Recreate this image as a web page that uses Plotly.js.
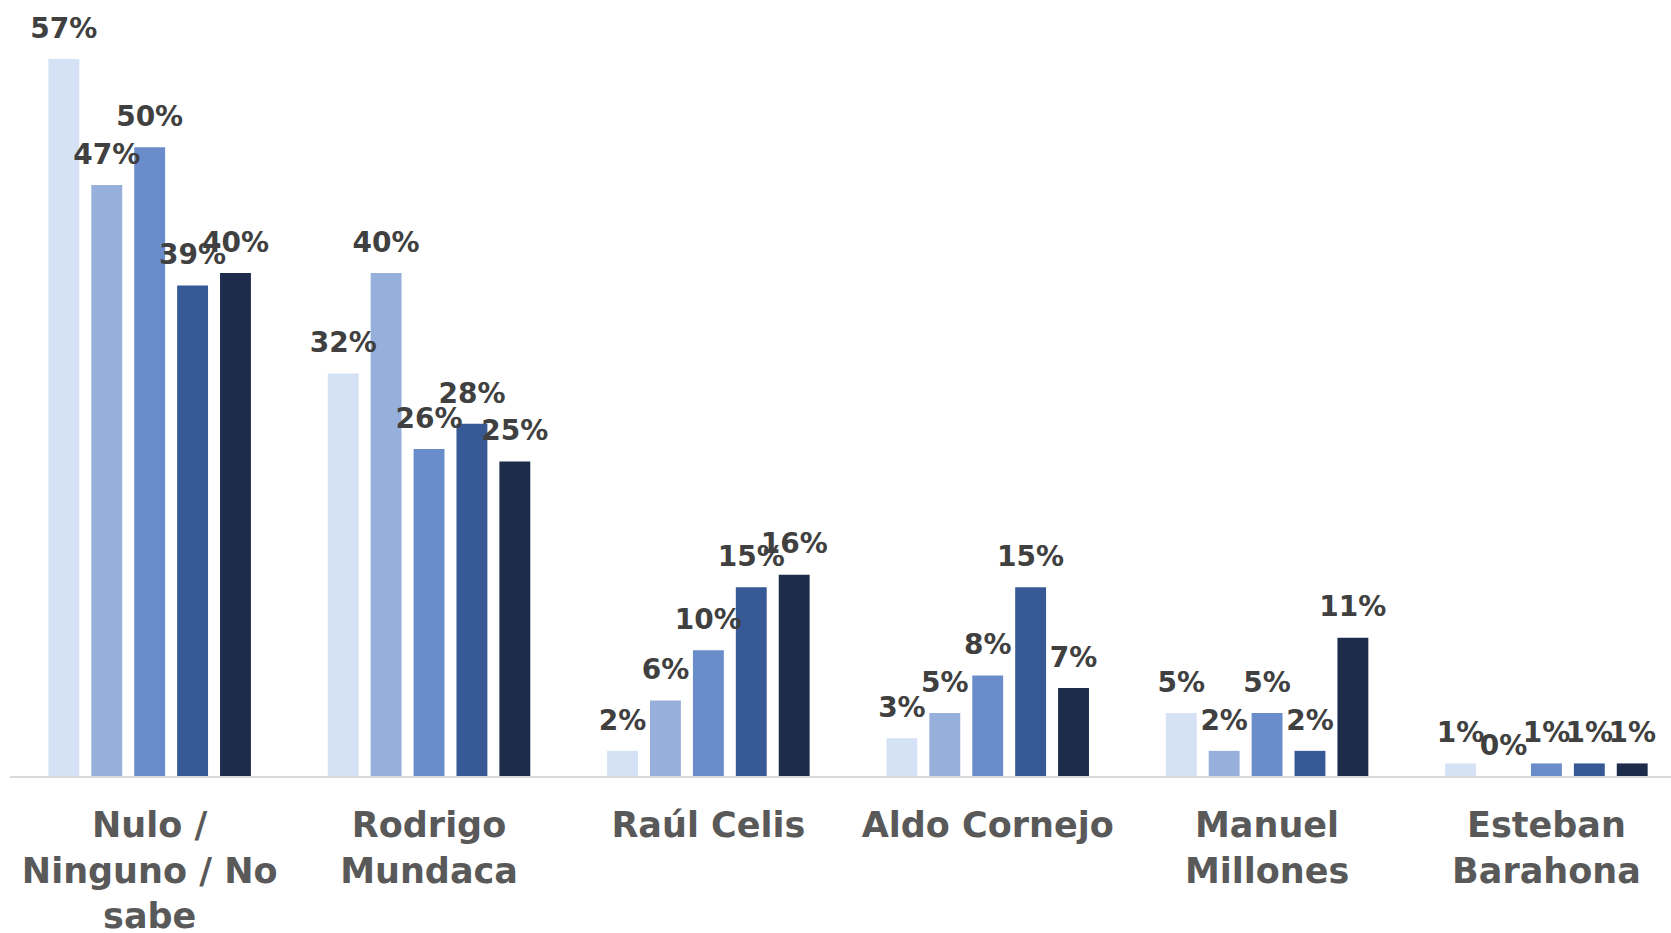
<!DOCTYPE html>
<html>
<head>
<meta charset="utf-8">
<script src="https://cdn.plot.ly/plotly-3.0.1.min.js"></script>
<style>
  html, body { margin: 0; padding: 0; background: white; }
  #chart { width: 1671px; height: 933px; }
</style>
</head>
<body>
<div id="chart"></div>
<script>
// categories (candidates) and the five survey waves
var categories = ['Nulo /<br>Ninguno / No<br>sabe', 'Rodrigo<br>Mundaca', 'Raúl Celis', 'Aldo Cornejo', 'Manuel<br>Millones', 'Esteban<br>Barahona'];
var seriesNames = ['Medición 1', 'Medición 2', 'Medición 3', 'Medición 4', 'Medición 5'];
var wave1 = [57, 32, 2, 3, 5, 1];
var wave2 = [47, 40, 6, 5, 2, 0];
var wave3 = [50, 26, 10, 8, 5, 1];
var wave4 = [39, 28, 15, 15, 2, 1];
var wave5 = [40, 25, 16, 7, 11, 1];
var colors = ['#d5e1f4', '#97b0db', '#6a8cca', '#375a97', '#1d2c4b'];

var waves = [wave1, wave2, wave3, wave4, wave5];
var yMax = 61.7;
var labelLift = 0.9; // labels sit a bit higher above the bars than plotly's default pad

// visible bars
var barTraces = waves.map(function(vals, i) {
  return {
    type: 'bar',
    name: seriesNames[i],
    x: categories,
    y: vals,
    marker: {color: colors[i]},
    hovertemplate: '%{x}: %{y}%<extra></extra>'
  };
});

// same bars, transparent, on a slightly shifted axis, carrying the value labels
var labelTraces = waves.map(function(vals, i) {
  return {
    type: 'bar',
    name: seriesNames[i],
    x: categories,
    y: vals,
    yaxis: 'y2',
    marker: {color: 'rgba(0,0,0,0)'},
    text: vals.map(function(v) { return v + '%'; }),
    textposition: 'outside',
    constraintext: 'none',
    cliponaxis: false,
    textfont: {family: 'DejaVu Sans', size: 28, color: '#404040', weight: 'bold'},
    hoverinfo: 'skip'
  };
});

var layout = {
  width: 1671,
  height: 933,
  barmode: 'group',
  bargap: 0.232,
  bargroupgap: 0.28,
  showlegend: false,
  plot_bgcolor: 'white',
  paper_bgcolor: 'white',
  margin: {l: 10, r: 0, t: 0, b: 157},
  xaxis: {
    range: [-0.5, 5.446],
    showline: true,
    linecolor: '#d9d9d9',
    linewidth: 2,
    showgrid: false,
    zeroline: false,
    ticks: 'outside',
    ticklen: 17,
    tickcolor: 'rgba(0,0,0,0)',
    tickangle: 0,
    tickfont: {family: 'DejaVu Sans', size: 35, color: '#595959', weight: 'bold'}
  },
  yaxis: {
    range: [0, yMax],
    visible: false,
    showgrid: false,
    zeroline: false
  },
  yaxis2: {
    overlaying: 'y',
    range: [-labelLift, yMax - labelLift],
    visible: false,
    showgrid: false,
    zeroline: false
  }
};

Plotly.newPlot('chart', barTraces.concat(labelTraces), layout, {displayModeBar: false});
</script>
</body>
</html>
